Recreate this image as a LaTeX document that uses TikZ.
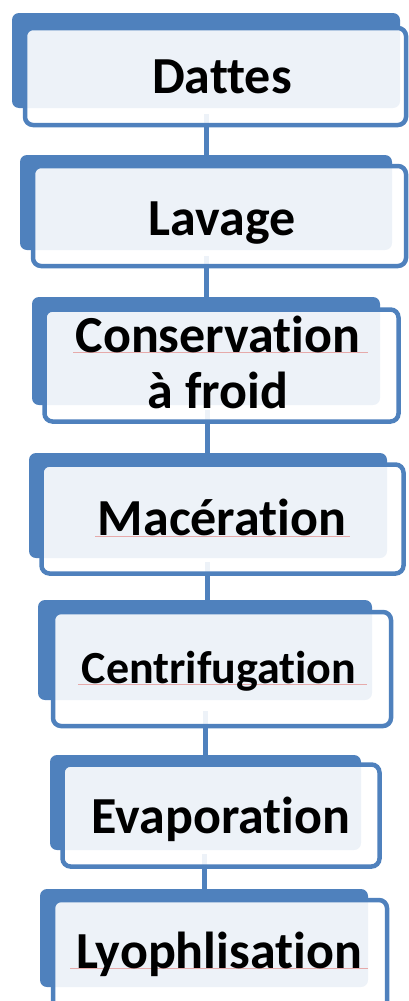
\documentclass[tikz,border=0pt]{standalone}
\usepackage{fontspec}
\setmainfont{Carlito}[RawFeature={-liga;-clig;-calt;-dlig}]
\definecolor{ofblue}{RGB}{79,129,189}
\definecolor{spell}{RGB}{230,170,170}
\tikzset{
  backbox/.style={rectangle, rounded corners=7pt, fill=ofblue, draw=none, inner sep=0pt, outer sep=0pt},
  frontbox/.style={rectangle, rounded corners=8pt, fill=white, fill opacity=0.9, draw=ofblue, draw opacity=1, line width=4.5pt, inner sep=0pt, outer sep=0pt},
  conn/.style={draw=ofblue, line width=5pt},
  lbl/.style={anchor=base, inner sep=0pt, font=\fontsize{52}{56}\selectfont\bfseries, text=black},
  squig/.style={draw=spell, line width=0.8pt}
}
\begin{document}
\begin{tikzpicture}[x=1pt,y=-1pt]
\useasboundingbox (0,0) rectangle (409,1001);
\clip (0,0) rectangle (409,1001);
% back rectangles
\node[backbox, minimum width=388pt, minimum height=95pt] (b1) at (206,60.5) {};
\node[backbox, minimum width=372pt, minimum height=95pt] (b2) at (206,202.5) {};
\node[backbox, minimum width=348pt, minimum height=108pt] (b3) at (206,351) {};
\node[backbox, minimum width=358pt, minimum height=105pt] (b4) at (208,505.5) {};
\node[backbox, minimum width=334pt, minimum height=100pt] (b5) at (205,650) {};
\node[backbox, minimum width=311pt, minimum height=95pt] (b6) at (205.5,802.5) {};
\node[backbox, minimum width=328pt, minimum height=98pt] (b7) at (204,938) {};
% connector start points
\coordinate (c1) at (206,114);
\coordinate (c2) at (206,256);
\coordinate (c3) at (207,410);
\coordinate (c4) at (207,562);
\coordinate (c5) at (205,711);
\coordinate (c6) at (204,854);
\draw[conn] (c1) -- (c1 |- b2.north);
\draw[conn] (c2) -- (c2 |- b3.north);
\draw[conn] (c3) -- (c3 |- b4.north);
\draw[conn] (c4) -- (c4 |- b5.north);
\draw[conn] (c5) -- (c5 |- b6.north);
\draw[conn] (c6) -- (c6 |- b7.north);
% front boxes
\node[frontbox, minimum width=381pt, minimum height=97pt] (f1) at (215.5,76.5) {};
\node[frontbox, minimum width=373pt, minimum height=100pt] (f2) at (219.5,216) {};
\node[frontbox, minimum width=354pt, minimum height=112pt] (f3) at (221.5,365.5) {};
\node[frontbox, minimum width=362pt, minimum height=109pt] (f4) at (222.5,519) {};
\node[frontbox, minimum width=338pt, minimum height=114pt] (f5) at (222,669) {};
\node[frontbox, minimum width=317pt, minimum height=102pt] (f6) at (221,815.5) {};
\node[frontbox, minimum width=334pt, minimum height=115pt] (f7) at (220,957.5) {};
% spell-check underlines
\draw[squig] (73,352.5) -- (368,352.5);
\draw[squig] (95,536) -- (350,536);
\draw[squig] (78,684) -- (367,684);
\draw[squig] (70,968.5) -- (368,968.5);
% labels
\node[lbl] (t1) at (222,93) {Dattes};
\node[lbl] (t2) at (222,235) {Lavage};
\node[lbl] (t3) at (218,352) {Conservation};
\node[lbl] (t3b) at (218,408) {à froid};
\node[lbl] (t4) at (222,535) {Macération};
\node[lbl, font=\fontsize{46}{50}\selectfont\bfseries] (t5) at (219,683) {Centrifugation};
\node[lbl] (t6) at (221,833) {Evaporation};
\node[lbl] (t7) at (219,968) {Lyophlisation};
\end{tikzpicture}
\end{document}
